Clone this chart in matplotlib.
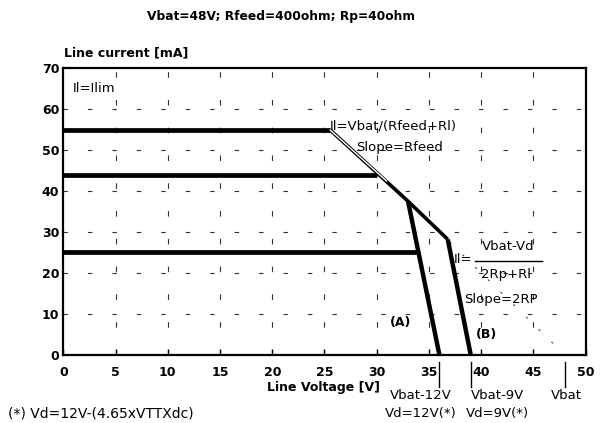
import matplotlib
matplotlib.use("Agg")
import matplotlib.pyplot as plt
import matplotlib.transforms as mtransforms

plt.rcParams['font.family'] = ['DejaVu Sans']

# ---- data ----
title = "Vbat=48V; Rfeed=400ohm; Rp=40ohm"
x_ticks = [0, 5, 10, 15, 20, 25, 30, 35, 40, 45, 50]
y_ticks = [0, 10, 20, 30, 40, 50, 60, 70]

# current-limit plateaus (Il = Ilim)
lim1_x = [0, 25.5]
lim1_y = [55, 55]
lim2_x = [0, 30.0]
lim2_y = [44, 44]
lim3_x = [0, 34.0]
lim3_y = [25, 25]

# Rfeed slope
feed_x = [25.5, 33.0, 36.8]
feed_y = [55.0, 37.5, 28.2]
feed_hollow_x = [25.5, 31.0]
feed_hollow_y = [55.0, 42.3]
# dotted continuation towards Vbat
feed_ext_x = [37.0, 48.0]
feed_ext_y = [27.5, 0.0]

# curve (A): Vd = 12 V
a_x = [33.0, 36.0]
a_y = [37.5, 0.0]
# curve (B): Vd = 9 V
b_x = [36.8, 39.0]
b_y = [28.2, 0.0]

marker_x = [36, 39, 48]
marker_line1 = ["Vbat-12V", "Vbat-9V", "Vbat"]
marker_line2 = ["Vd=12V(*)", "Vd=9V(*)", ""]
marker_text_x = [34.2, 41.6, 48.2]

fig = plt.figure(figsize=(6.05, 4.23), dpi=100)
ax = fig.add_axes([0.1047, 0.161, 0.8633, 0.678])

ax.set_xlim(0, 50)
ax.set_ylim(0, 70)

# grid
for xv in x_ticks[1:-1]:
    ax.plot([xv, xv], [0, 70], color='#333333', lw=0.8,
            dashes=(5, 20), zorder=1)
for yv in y_ticks[1:-1]:
    ax.plot([0, 50], [yv, yv], color='#333333', lw=0.8,
            dashes=(4, 18), dash_capstyle='butt', zorder=1)

# curves
ax.plot(lim1_x, lim1_y, color='black', lw=3.4, solid_capstyle='butt', zorder=3)
ax.plot(lim2_x, lim2_y, color='black', lw=3.4, solid_capstyle='butt', zorder=3)
ax.plot(lim3_x, lim3_y, color='black', lw=3.4, solid_capstyle='butt', zorder=3)
ax.plot(feed_x, feed_y, color='black', lw=2.6, solid_capstyle='butt', zorder=3)
ax.plot(feed_hollow_x, feed_hollow_y, color='white', lw=1.0,
        solid_capstyle='butt', zorder=4)
ax.plot(feed_ext_x, feed_ext_y, color='#444444', lw=0.8, dashes=(2, 14), zorder=2)
ax.plot(a_x, a_y, color='black', lw=3.2, solid_capstyle='butt', zorder=3)
ax.plot(b_x, b_y, color='black', lw=3.2, solid_capstyle='butt', zorder=3)

# axes styling
for s in ax.spines.values():
    s.set_linewidth(1.6)
ax.set_xticks(x_ticks)
ax.set_yticks(y_ticks)
ax.tick_params(axis='x', direction='in', length=4, width=1, pad=8, labelsize=9)
ax.tick_params(axis='y', direction='out', length=0, pad=3, labelsize=9)
for lab in ax.get_xticklabels() + ax.get_yticklabels():
    lab.set_fontweight('bold')

# annotations inside
fs = 9.5
ax.text(0.9, 65, "Il=Ilim", fontsize=fs, va='center', ha='left')
ax.text(25.5, 55.8, "Il=Vbat/(Rfeed+Rl)", fontsize=fs, va='center', ha='left',
        zorder=5)
ax.text(28.0, 50.5, "Slope=Rfeed", fontsize=fs, va='center', ha='left', zorder=5)
ax.text(37.4, 23.3, "Il=", fontsize=fs, va='center', ha='left')
ax.text(42.6, 26.4, "Vbat-Vd", fontsize=fs, va='center', ha='center')
ax.plot([39.4, 45.8], [23.0, 23.0], color='black', lw=1.0)
ax.text(42.4, 19.7, "2Rp+Rl", fontsize=fs, va='center', ha='center')
ax.text(38.4, 13.4, "Slope=2RP", fontsize=fs, va='center', ha='left')
ax.text(32.3, 8.0, "(A)", fontsize=9, fontweight='bold', va='center', ha='center')
ax.text(40.5, 4.9, "(B)", fontsize=9, fontweight='bold', va='center', ha='center')

# below-axis markers
trans = mtransforms.blended_transform_factory(ax.transData, ax.transAxes)
for mx, t1, t2, tx in zip(marker_x, marker_line1, marker_line2, marker_text_x):
    ax.plot([mx, mx], [-0.024, -0.112], color='black', lw=1.0,
            transform=trans, clip_on=False)
    ax.text(tx, -0.140, t1, transform=trans, fontsize=fs, ha='center', va='center')
    if t2:
        ax.text(tx, -0.205, t2, transform=trans, fontsize=fs, ha='center', va='center')

ax.text(24.95, -0.113, "Line Voltage [V]", transform=trans, fontsize=9,
        fontweight='bold', ha='center', va='center')

fig.text(0.106, 0.874, "Line current [mA]", fontsize=9, fontweight='bold',
         ha='left', va='center')
fig.text(0.465, 0.962, title, fontsize=8.8, fontweight='bold',
         ha='center', va='center')
fig.text(0.013, 0.022, "(*) Vd=12V-(4.65xVTTXdc)", fontsize=10,
         ha='left', va='center')

fig.savefig("out.png", dpi=100)
